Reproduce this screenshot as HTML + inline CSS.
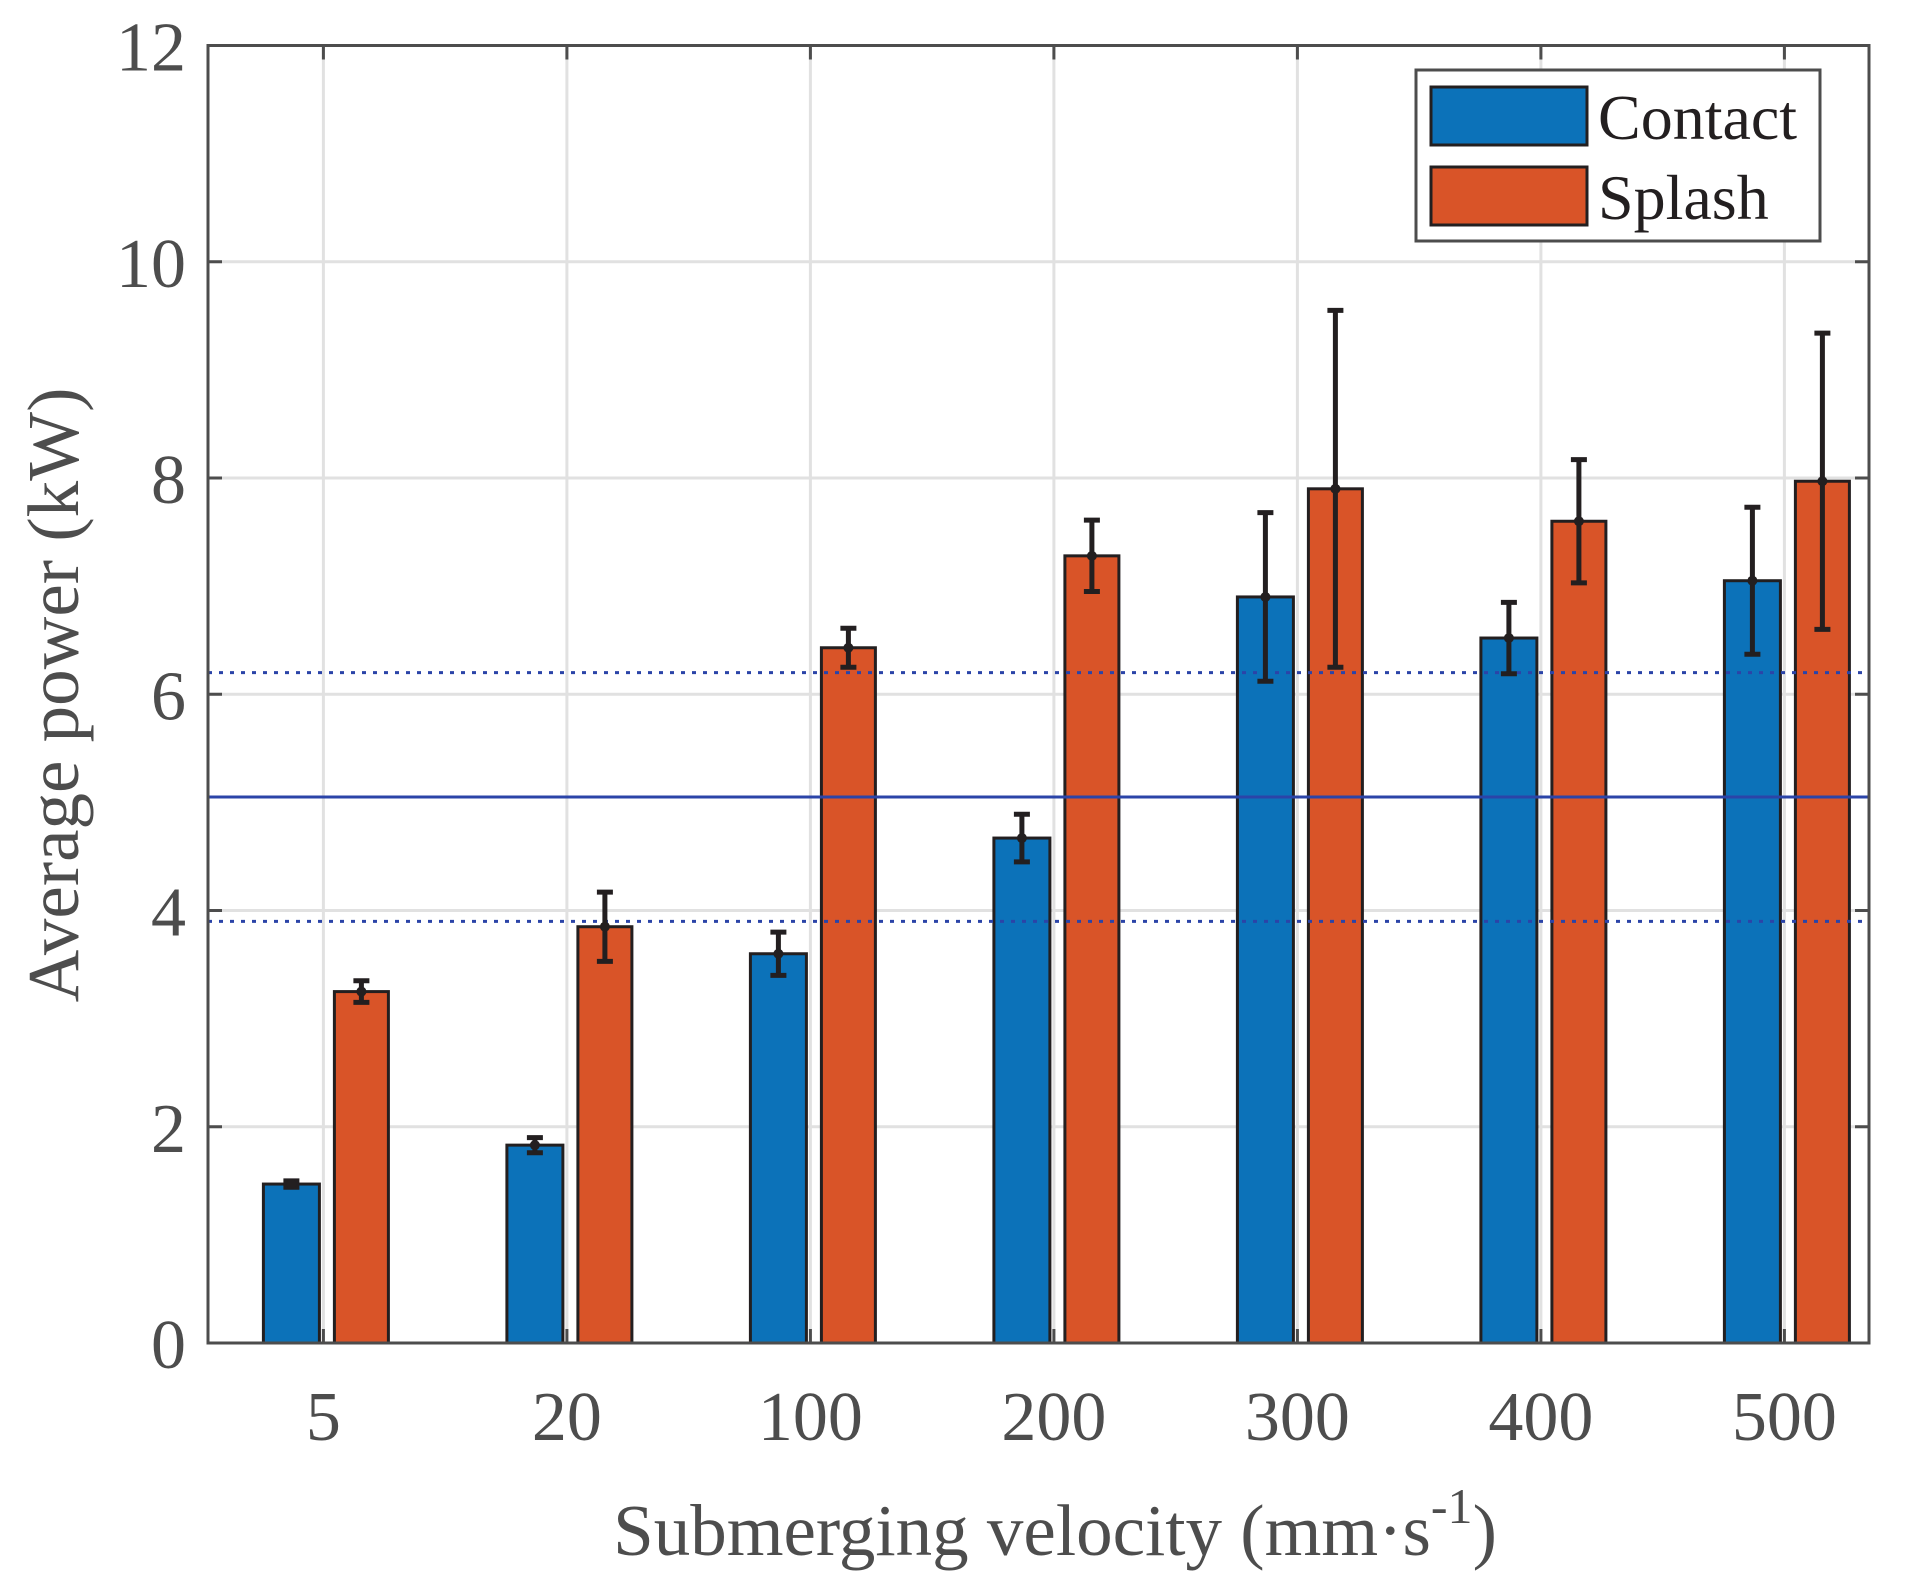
<!DOCTYPE html>
<html><head><meta charset="utf-8"><style>
body{margin:0;background:#fff}
text{font-family:"Liberation Serif",serif}
</style></head><body>
<svg id="chart" width="1928" height="1586" xmlns="http://www.w3.org/2000/svg">
<g id="grid"></g>
<g id="bars"></g>
<g id="refs"></g>
<g id="errs"></g>
<g id="axes"></g>
<text transform="translate(78,695) rotate(-90)" text-anchor="middle" font-size="73" fill="#4d4d4d">Average power (kW)</text>
<text x="1055" y="1555" text-anchor="middle" font-size="73" fill="#4d4d4d">Submerging velocity (mm·s<tspan dy="-32" font-size="50">-1</tspan><tspan dy="32">)</tspan></text>
<g>
<rect x="1416" y="70" width="404" height="171" fill="#fff" stroke="#4d4d4d" stroke-width="3"/>
<rect x="1431" y="87" width="156" height="58" fill="#0c72b9" stroke="#231f20" stroke-width="3"/>
<text x="1598" y="139" font-size="64" fill="#231f20">Contact</text>
<rect x="1431" y="167" width="156" height="58" fill="#d95428" stroke="#231f20" stroke-width="3"/>
<text x="1598" y="219" font-size="64" fill="#231f20">Splash</text>
</g>
</svg>
<script>
const categories=["5","20","100","200","300","400","500"];
const contact=[1.47,1.83,3.6,4.67,6.9,6.52,7.05];
const contactErr=[0.03,0.07,0.2,0.22,0.78,0.33,0.68];
const splash=[3.25,3.85,6.43,7.28,7.9,7.6,7.97];
const splashErr=[0.1,0.32,0.18,0.33,1.65,0.57,1.37];
const yTicks=[0,2,4,6,8,10,12];
const meanLine=5.05, bandLow=3.9, bandHigh=6.2;

const L=208,R=1869,T=45.5,B=1343;
const ys=v=>B-(B-T)*v/12;
const xs=i=>323.4+243.5*i;
const NS="http://www.w3.org/2000/svg";
function mk(p,tag,at){const e=document.createElementNS(NS,tag);for(const k in at)e.setAttribute(k,at[k]);p.appendChild(e);return e;}
const grid=document.getElementById('grid'),bars=document.getElementById('bars'),refs=document.getElementById('refs'),errs=document.getElementById('errs'),axes=document.getElementById('axes');
yTicks.forEach(t=>{
 const g=mk(grid,'line',{x1:L,x2:R,y1:ys(t),y2:ys(t),stroke:'#e1e1e1','stroke-width':3});
 
 
 const tl=mk(axes,'text',{x:L-22,y:ys(t)+25,'text-anchor':'end','font-size':70,fill:'#4d4d4d'});
 tl.textContent=t;
 
 
 mk(axes,'line',{x1:L,x2:L+14,y1:ys(t),y2:ys(t),stroke:'#4d4d4d','stroke-width':3});
 mk(axes,'line',{x1:R,x2:R-14,y1:ys(t),y2:ys(t),stroke:'#4d4d4d','stroke-width':3});
});
categories.forEach((c,i)=>{
 const g=mk(grid,'line',{x1:xs(i),x2:xs(i),y1:T,y2:B,stroke:'#e1e1e1','stroke-width':3});
 
 
 mk(axes,'line',{x1:xs(i),x2:xs(i),y1:T,y2:T+14,stroke:'#4d4d4d','stroke-width':3});
 mk(axes,'line',{x1:xs(i),x2:xs(i),y1:B,y2:B-14,stroke:'#4d4d4d','stroke-width':3});
 const tl=mk(axes,'text',{x:xs(i),y:B+97,'text-anchor':'middle','font-size':70,fill:'#4d4d4d'});
 tl.textContent=c;
 
 
 const b1=mk(bars,'rect',{x:xs(i)-60,y:ys(contact[i]),width:56,height:B-ys(contact[i]),fill:'#0c72b9',stroke:'#231f20','stroke-width':3});
 
 
 const b2=mk(bars,'rect',{x:xs(i)+11,y:ys(splash[i]),width:54,height:B-ys(splash[i]),fill:'#d95428',stroke:'#231f20','stroke-width':3});
 
 
 [[xs(i)-32,contact[i],contactErr[i],'contact'],[xs(i)+38,splash[i],splashErr[i],'splash']].forEach(([x,v,e,n])=>{
  const g=mk(errs,'g',{});
  
  
  mk(g,'line',{x1:x,x2:x,y1:ys(v+e),y2:ys(v-e),stroke:'#231f20','stroke-width':5});
  mk(g,'line',{x1:x-8,x2:x+8,y1:ys(v+e),y2:ys(v+e),stroke:'#231f20','stroke-width':5});
  mk(g,'line',{x1:x-8,x2:x+8,y1:ys(v-e),y2:ys(v-e),stroke:'#231f20','stroke-width':5});
  mk(g,'circle',{cx:x,cy:ys(v),r:5,fill:'#231f20'});
 });
});
[[meanLine,''],[bandLow,'4,7'],[bandHigh,'4,7']].forEach(([v,d],k)=>{
 const l=mk(refs,'line',{x1:L,x2:R,y1:ys(v),y2:ys(v),stroke:'#2b44a8','stroke-width':3,'stroke-dasharray':d||'none'});
 
 
});
const fr=mk(axes,'rect',{x:L,y:T,width:R-L,height:B-T,fill:'none',stroke:'#4d4d4d','stroke-width':3});


</script>
</body></html>
